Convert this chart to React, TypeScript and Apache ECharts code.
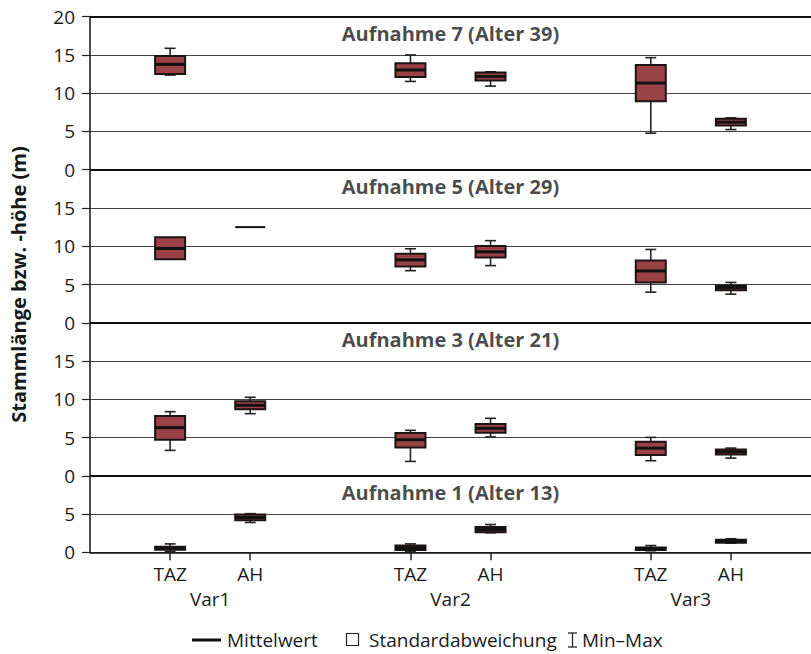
import React, { useEffect, useRef } from "react";
import * as echarts from "echarts";

// ---- data ----
const variants = ["Var1", "Var2", "Var3"];
const methods = ["TAZ", "AH"];
const panelTitles = [
  "Aufnahme 1 (Alter 13)",
  "Aufnahme 3 (Alter 21)",
  "Aufnahme 5 (Alter 29)",
  "Aufnahme 7 (Alter 39)",
];
// each panel is stacked on one continuous axis: base offset and span (axis units)
const panelBase = [0, 10, 30, 50];
const panelSpan = [10, 20, 20, 20];
const yTop = 70;

// [min, mean-sd, mean, mean+sd, max]; order: Var1 TAZ, Var1 AH, Var2 TAZ, Var2 AH, Var3 TAZ, Var3 AH
const aufnahme1 = [
  [0.1, 0.33, 0.53, 0.73, 1.1],
  [3.9, 4.2, 4.55, 4.95, 5.05],
  [0.15, 0.31, 0.6, 0.88, 1.1],
  [2.55, 2.62, 2.97, 3.32, 3.63],
  [0.2, 0.31, 0.47, 0.62, 0.88],
  [1.2, 1.24, 1.44, 1.64, 1.77],
];
const aufnahme3 = [
  [3.32, 4.72, 6.29, 7.82, 8.38],
  [8.12, 8.69, 9.21, 9.74, 10.26],
  [1.88, 3.71, 4.72, 5.59, 5.94],
  [5.07, 5.63, 6.2, 6.77, 7.51],
  [1.97, 2.71, 3.62, 4.45, 5.02],
  [2.31, 2.79, 3.14, 3.45, 3.62],
];
const aufnahme5 = [
  [8.31, 8.31, 9.71, 11.16, 11.16],
  [12.5, 12.5, 12.5, 12.5, 12.5],
  [6.81, 7.34, 8.22, 9.01, 9.67],
  [7.47, 8.53, 9.27, 10.02, 10.73],
  [4.0, 5.27, 6.77, 8.13, 9.58],
  [3.74, 4.26, 4.62, 4.88, 5.27],
];
const aufnahme7 = [
  [12.37, 12.5, 13.77, 14.87, 15.87],
  null,
  [11.54, 12.11, 13.03, 13.9, 15.0],
  [10.93, 11.67, 12.2, 12.72, 12.8],
  [4.77, 8.96, 11.33, 13.69, 14.65],
  [5.25, 5.77, 6.21, 6.65, 6.78],
];
const panelStats = [aufnahme1, aufnahme3, aufnahme5, aufnahme7];

const FONT = "Open Sans";
const BOX_FILL = "#9b4247";

export default function App() {
  const ref = useRef<HTMLDivElement>(null);

  useEffect(() => {
    if (!ref.current) return;
    const chart = echarts.init(ref.current, null, { renderer: "svg" });

    const posOf = (g: number, m: number) => 1 + 3 * g + m;
    const boxPositions: number[] = [];
    const boxNames: Record<string, string> = {};
    variants.forEach((_, g) =>
      methods.forEach((mName, m) => {
        boxPositions.push(posOf(g, m));
        boxNames[String(posOf(g, m))] = mName;
      })
    );
    const varPositions = variants.map((_, g) => posOf(g, 0) + 0.5);

    const boxData: number[][] = [];
    panelStats.forEach((stats, p) => {
      stats.forEach((s, i) => {
        if (!s) return;
        const g = Math.floor(i / 2);
        const m = i % 2;
        boxData.push([posOf(g, m), ...s.map((v) => v + panelBase[p])]);
      });
    });

    const titleData = panelTitles.map((t, p) => ({
      name: t,
      value: [4.5, panelBase[p] + panelSpan[p] - 2.5 + 0.3],
    }));

    const yLabel = (v: number) => {
      if (v === yTop) return "20";
      for (let p = panelBase.length - 1; p >= 0; p--) {
        if (v >= panelBase[p]) return String(v - panelBase[p]);
      }
      return String(v);
    };

    const renderItem = (params: any, api: any) => {
      const x = api.value(0);
      const mn = api.value(1), lo = api.value(2), mean = api.value(3), hi = api.value(4), mx = api.value(5);
      const c = (v: number) => api.coord([x, v]);
      const [cx, yMean] = c(mean);
      const yMin = c(mn)[1], yLo = c(lo)[1], yHi = c(hi)[1], yMax = c(mx)[1];
      const half = 15, cap = 5.5;
      const wStyle = { stroke: "#222", lineWidth: 1.6 };
      const children: any[] = [];
      if (mx > hi) {
        children.push({ type: "line", shape: { x1: cx, y1: yHi, x2: cx, y2: yMax }, style: wStyle });
        children.push({ type: "line", shape: { x1: cx - cap, y1: yMax, x2: cx + cap, y2: yMax }, style: wStyle });
      }
      if (mn < lo) {
        children.push({ type: "line", shape: { x1: cx, y1: yLo, x2: cx, y2: yMin }, style: wStyle });
        children.push({ type: "line", shape: { x1: cx - cap, y1: yMin, x2: cx + cap, y2: yMin }, style: wStyle });
      }
      const isBox = hi - lo > 0.001;
      if (isBox) {
        children.push({
          type: "rect",
          shape: { x: cx - half, y: yHi, width: half * 2, height: yLo - yHi },
          style: { fill: BOX_FILL, stroke: "#1c1414", lineWidth: 2 },
        });
      }
      children.push({
        type: "line",
        shape: { x1: cx - half, y1: yMean, x2: cx + half, y2: yMean },
        style: { stroke: "#111", lineWidth: isBox ? 3 : 2 },
      });
      return { type: "group", children };
    };

    const textStyle = { fontFamily: FONT, fontSize: 19, color: "#1a1a1a" };
    const legendY = 640;

    chart.setOption({
      animation: false,
      textStyle: { fontFamily: FONT },
      grid: { left: 81.2, top: 16.7, width: 739, height: 535.6, containLabel: false },
      xAxis: [
        {
          type: "value",
          min: 0,
          max: 9,
          position: "bottom",
          axisLine: { show: true, onZero: false, lineStyle: { color: "#111", width: 1.5 } },
          axisTick: { show: true, length: 8, customValues: boxPositions, lineStyle: { color: "#222", width: 1.5 } },
          axisLabel: {
            ...textStyle,
            margin: 12,
            customValues: boxPositions,
            formatter: (v: number) => boxNames[String(v)] || "",
          },
          splitLine: { show: false },
        },
        {
          type: "value",
          min: 0,
          max: 9,
          position: "bottom",
          offset: 0,
          axisLine: { show: false },
          axisTick: { show: false },
          axisLabel: {
            ...textStyle,
            margin: 37,
            customValues: varPositions,
            formatter: (v: number) => {
              const i = varPositions.indexOf(v);
              return i >= 0 ? variants[i] : "";
            },
          },
          splitLine: { show: false },
        },
      ],
      yAxis: {
        type: "value",
        min: 0,
        max: yTop,
        interval: 5,
        name: "Stammlänge bzw. -höhe (m)",
        nameLocation: "middle",
        nameGap: 62,
        nameTextStyle: { fontFamily: FONT, fontSize: 20, fontWeight: "bold", color: "#1a1a1a" },
        axisLine: { show: true, lineStyle: { color: "#111", width: 1.5 } },
        axisTick: { show: true, length: 8, lineStyle: { color: "#222", width: 1.2 } },
        axisLabel: { ...textStyle, margin: 15, formatter: yLabel },
        splitLine: { show: true, lineStyle: { color: "#444", width: 1.2 } },
      },
      series: [
        {
          type: "line",
          data: [],
          silent: true,
          markLine: {
            silent: true,
            symbol: "none",
            label: { show: false },
            lineStyle: { color: "#111", width: 2, type: "solid" },
            data: [...panelBase.slice(1).map((b) => ({ yAxis: b })), { yAxis: yTop }],
          },
        },
        {
          type: "custom",
          renderItem,
          data: boxData,
          encode: { x: 0, y: [1, 2, 3, 4, 5] },
          silent: true,
          z: 3,
        },
        {
          type: "scatter",
          data: titleData,
          symbolSize: 0,
          silent: true,
          label: {
            show: true,
            position: "inside",
            formatter: "{b}",
            fontFamily: FONT,
            fontSize: 20,
            fontWeight: "bold",
            color: "#1a1a1a",
          },
          z: 4,
        },
      ],
      graphic: [
        { type: "line", shape: { x1: 192, y1: legendY, x2: 221, y2: legendY }, style: { stroke: "#111", lineWidth: 3 } },
        { type: "text", x: 227, y: legendY, style: { text: "Mittelwert", ...textStyle, fill: "#1a1a1a", verticalAlign: "middle" } },
        { type: "rect", shape: { x: 346.5, y: legendY - 6.5, width: 12, height: 12 }, style: { fill: "none", stroke: "#222", lineWidth: 1.2 } },
        { type: "text", x: 369, y: legendY, style: { text: "Standardabweichung", ...textStyle, fill: "#1a1a1a", verticalAlign: "middle" } },
        { type: "line", shape: { x1: 572.5, y1: legendY - 7, x2: 572.5, y2: legendY + 7 }, style: { stroke: "#222", lineWidth: 1.3 } },
        { type: "line", shape: { x1: 568, y1: legendY - 7, x2: 577, y2: legendY - 7 }, style: { stroke: "#222", lineWidth: 1.3 } },
        { type: "line", shape: { x1: 568, y1: legendY + 7, x2: 577, y2: legendY + 7 }, style: { stroke: "#222", lineWidth: 1.3 } },
        { type: "text", x: 582, y: legendY, style: { text: "Min–Max", ...textStyle, fill: "#1a1a1a", verticalAlign: "middle" } },
      ],
    });

    return () => chart.dispose();
  }, []);

  return (
    <div
      ref={ref}
      style={{ position: "absolute", left: 0, top: 0, width: 811, height: 654, background: "#fff" }}
    />
  );
}
